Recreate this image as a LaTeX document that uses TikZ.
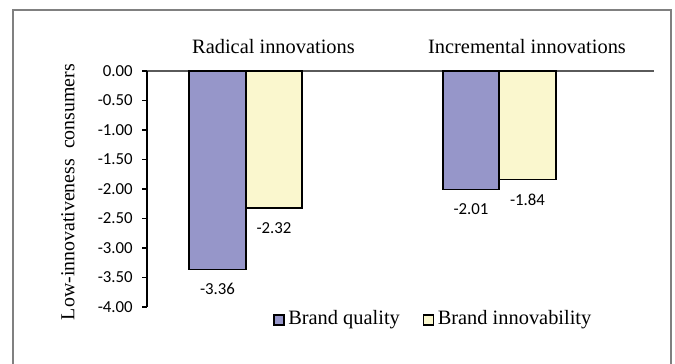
\documentclass[tikz,border=0pt]{standalone}
\usepackage{fontspec}
\setmainfont{Liberation Serif}
\newfontfamily\calibfont{Carlito}
\usetikzlibrary{positioning}
\definecolor{qualityblue}{RGB}{150,150,201}
\definecolor{innovyellow}{RGB}{250,247,206}
\definecolor{framegray}{RGB}{128,128,128}

\begin{document}
\begin{tikzpicture}[x=0.75pt, y=-0.75pt,
	ticklabel/.style={font=\calibfont\fontsize{12.6}{14}\selectfont, anchor=east, inner sep=0pt},
	vallabel/.style={font=\calibfont\fontsize{12.6}{14}\selectfont, inner sep=0pt},
	catlabel/.style={font=\fontsize{15.3}{17}\selectfont, inner sep=0pt},
	bar/.style={draw=black, line width=1.1pt},
	legbox/.style={draw=black, line width=1.1pt, minimum size=7.4pt, inner sep=0pt}]
	\useasboundingbox (0,0) rectangle (675,364);
	% marco %
	\draw[framegray, line width=0.9pt] (13,364) -- (13,10) -- (671,10) -- (671,364);
	% ejes %
	\coordinate (o) at (147,71);
	\coordinate (xend) at (654,71);
	\coordinate (yend) at (147,307);
	\draw[framegray!70!black, line width=0.9pt] (o) -- (xend);
	\draw[black, line width=0.8pt] (o) -- (yend);
	\foreach \v [count=\i from 0] in {0.00,-0.50,-1.00,-1.50,-2.00,-2.50,-3.00,-3.50,-4.00} {
		\draw[black, line width=0.8pt] (142,71+29.5*\i) -- (147,71+29.5*\i);
		\node[ticklabel] (t\i) at (133,71+29.5*\i) {\v};
	}
	\node[rotate=90, font=\fontsize{14.9}{17}\selectfont, inner sep=0pt] (ylab) at (68,192) {Low-innovativeness\ \ consumers};
	% categorias %
	\node[catlabel] (rad) at (273.5,47) {Radical innovations};
	\node[catlabel] (inc) at (527,47) {Incremental innovations};
	% barras %
	\foreach \name/\xl/\xr/\val/\col in {rq/189/246/-3.36/qualityblue, ri/246/302/-2.32/innovyellow,
		iq/443/499/-2.01/qualityblue, ii/499/556/-1.84/innovyellow} {
		\draw[bar, fill=\col] (\xl,71) rectangle (\xr,71-59*\val);
		\coordinate (\name) at ({(\xl+\xr)/2},71-59*\val);
		\node[vallabel, below=15pt of \name, anchor=center] (\name-lab) {\val};
	}
	% leyenda %
	\node[legbox, fill=qualityblue] (kq) at (279,320) {};
	\node[right=2.5pt of kq, font=\fontsize{15.3}{17}\selectfont, inner sep=0pt] (lq) {Brand quality};
	\node[legbox, fill=innovyellow] (ki) at (428.5,320) {};
	\node[right=2.5pt of ki, font=\fontsize{15.3}{17}\selectfont, inner sep=0pt] (li) {Brand innovability};
\end{tikzpicture}
\end{document}
